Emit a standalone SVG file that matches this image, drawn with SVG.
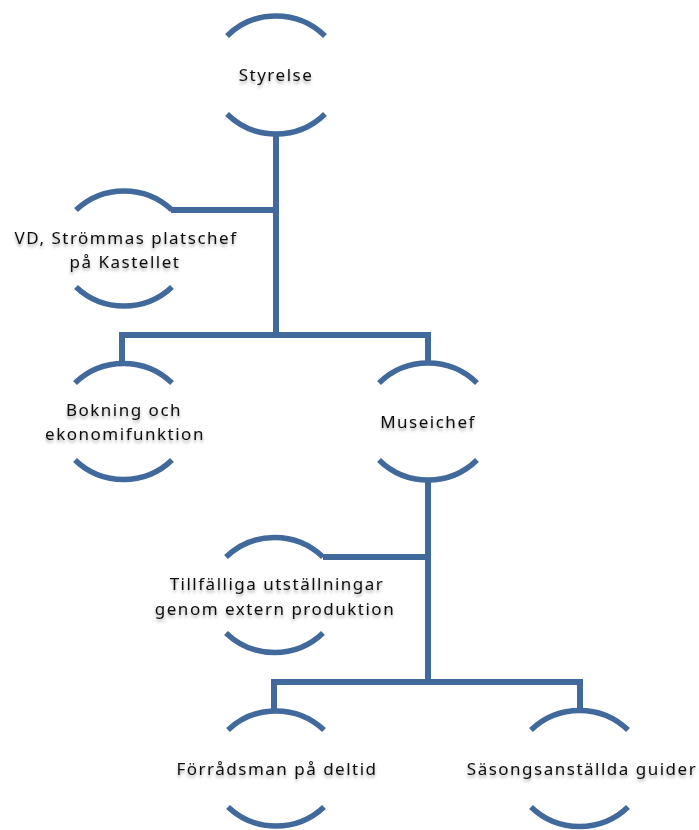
<svg xmlns="http://www.w3.org/2000/svg" width="699" height="830" viewBox="0 0 699 830">
<style>
.arc{fill:none;stroke:#41699B;stroke-width:5.5}
.con{fill:none;stroke:#41699B;stroke-width:6;stroke-linejoin:miter}
.lbl{font-family:"Noto Sans","Open Sans",sans-serif;font-size:17px;fill:#111;text-anchor:middle;letter-spacing:1.5px;filter:url(#sh)}
</style>
<defs>
<filter id="sh" x="-10%" y="-40%" width="120%" height="200%">
<feDropShadow dx="0" dy="2.5" stdDeviation="1.8" flood-color="#000" flood-opacity="0.35"/>
</filter>
</defs>
<rect width="699" height="830" fill="#fff"/>
<g id="connectors">
<path class="con" d="M276 134 V335"/>
<path class="con" d="M171 210 H276"/>
<path class="con" d="M122 362 V335 H428 V362"/>
<path class="con" d="M428 480 V682"/>
<path class="con" d="M323 557 H428"/>
<path class="con" d="M274 709 V682 H580 V709"/>
</g>
<g id="styrelse">
<path class="arc" d="M227 36 A70 70 0 0 1 325 36"/>
<path class="arc" d="M227 114 A70 70 0 0 0 325 114"/>
<text class="lbl" x="276" y="81">Styrelse</text>
</g>
<g id="vd">
<path class="arc" d="M76 210 A70 70 0 0 1 172 210"/>
<path class="arc" d="M76 287 A70 70 0 0 0 172 287"/>
<text class="lbl" x="126" y="244">VD, Strömmas platschef</text>
<text class="lbl" x="125" y="268">på Kastellet</text>
</g>
<g id="bokning">
<path class="arc" d="M75 383 A70 70 0 0 1 172 383"/>
<path class="arc" d="M75 460 A70 70 0 0 0 172 460"/>
<text class="lbl" x="124" y="416">Bokning och</text>
<text class="lbl" x="125" y="440">ekonomifunktion</text>
</g>
<g id="museichef">
<path class="arc" d="M379 383 A70 70 0 0 1 477 383"/>
<path class="arc" d="M379 460 A70 70 0 0 0 477 460"/>
<text class="lbl" x="428" y="428">Museichef</text>
</g>
<g id="tillfalliga">
<path class="arc" d="M226 557 A70 70 0 0 1 323 557"/>
<path class="arc" d="M226 633 A70 70 0 0 0 323 633"/>
<text class="lbl" x="277" y="590">Tillfälliga utställningar</text>
<text class="lbl" x="275" y="615">genom extern produktion</text>
</g>
<g id="forradsman">
<path class="arc" d="M228 730 A70 70 0 0 1 324 730"/>
<path class="arc" d="M228 807 A70 70 0 0 0 324 807"/>
<text class="lbl" x="277" y="775">Förrådsman på deltid</text>
</g>
<g id="sasong">
<path class="arc" d="M531 730 A70 70 0 0 1 628 730"/>
<path class="arc" d="M531 807 A70 70 0 0 0 628 807"/>
<text class="lbl" x="582" y="775">Säsongsanställda guider</text>
</g>
</svg>
